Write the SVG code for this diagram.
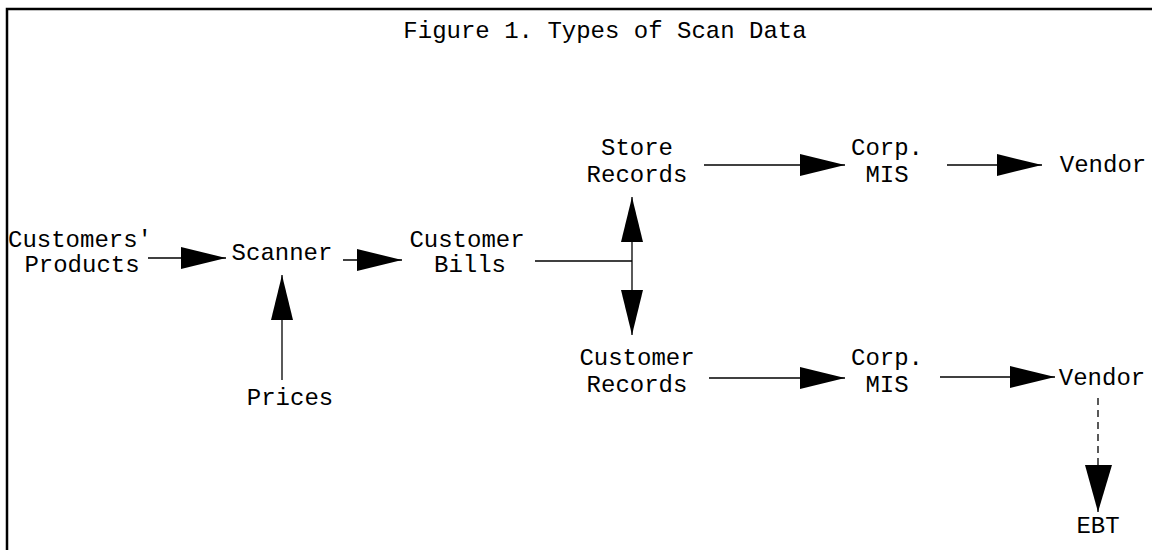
<svg xmlns="http://www.w3.org/2000/svg" width="1152" height="550" viewBox="0 0 1152 550">
<style>
text{font-family:"Liberation Mono","Courier New",monospace;font-size:24px;fill:#000;text-anchor:middle}
.c{stroke:#000;stroke-width:1.3;fill:none}
.d{stroke-dasharray:7,5}
</style>
<defs>
<marker id="ah" markerUnits="userSpaceOnUse" markerWidth="46" markerHeight="24" refX="45" refY="11" orient="auto">
<path d="M0,0 L45,11 L0,22 Z" fill="#000"/>
</marker>
</defs>
<rect width="1152" height="550" fill="#fff"/>
<path d="M7,550 V9 H1152" fill="none" stroke="#000" stroke-width="2.5"/>
<g id="title"><text x="605" y="38">Figure 1. Types of Scan Data</text></g>
<g id="n-products"><text x="80" y="247">Customers'</text><text x="82" y="272">Products</text></g>
<g id="n-scanner"><text x="282" y="260">Scanner</text></g>
<g id="n-prices"><text x="290" y="405">Prices</text></g>
<g id="n-bills"><text x="467" y="247">Customer</text><text x="470" y="272">Bills</text></g>
<g id="n-store"><text x="637" y="155">Store</text><text x="637" y="182">Records</text></g>
<g id="n-custrec"><text x="637" y="365">Customer</text><text x="637" y="392">Records</text></g>
<g id="n-mis1"><text x="887" y="155">Corp.</text><text x="887" y="182">MIS</text></g>
<g id="n-mis2"><text x="887" y="365">Corp.</text><text x="887" y="392">MIS</text></g>
<g id="n-vendor1"><text x="1103" y="172">Vendor</text></g>
<g id="n-vendor2"><text x="1102" y="385">Vendor</text></g>
<g id="n-ebt"><text x="1098" y="533">EBT</text></g>
<g id="connectors">
<line class="c" x1="148" y1="258" x2="226" y2="258" marker-end="url(#ah)"/>
<line class="c" x1="343" y1="260" x2="402" y2="260" marker-end="url(#ah)"/>
<line class="c" x1="282" y1="380" x2="282" y2="275" marker-end="url(#ah)"/>
<line class="c" x1="535" y1="261" x2="632" y2="261"/>
<line class="c" x1="632" y1="261" x2="632" y2="197" marker-end="url(#ah)"/>
<line class="c" x1="632" y1="261" x2="632" y2="335" marker-end="url(#ah)"/>
<line class="c" x1="704" y1="165" x2="845" y2="165" marker-end="url(#ah)"/>
<line class="c" x1="947" y1="165" x2="1042" y2="165" marker-end="url(#ah)"/>
<line class="c" x1="709" y1="378" x2="845" y2="378" marker-end="url(#ah)"/>
<line class="c" x1="940" y1="377" x2="1055" y2="377" marker-end="url(#ah)"/>
<line class="c d" x1="1098" y1="398" x2="1098" y2="512"/>
<path d="M1085,465 L1112,465 L1098,512 Z" fill="#000"/>
</g>
</svg>
